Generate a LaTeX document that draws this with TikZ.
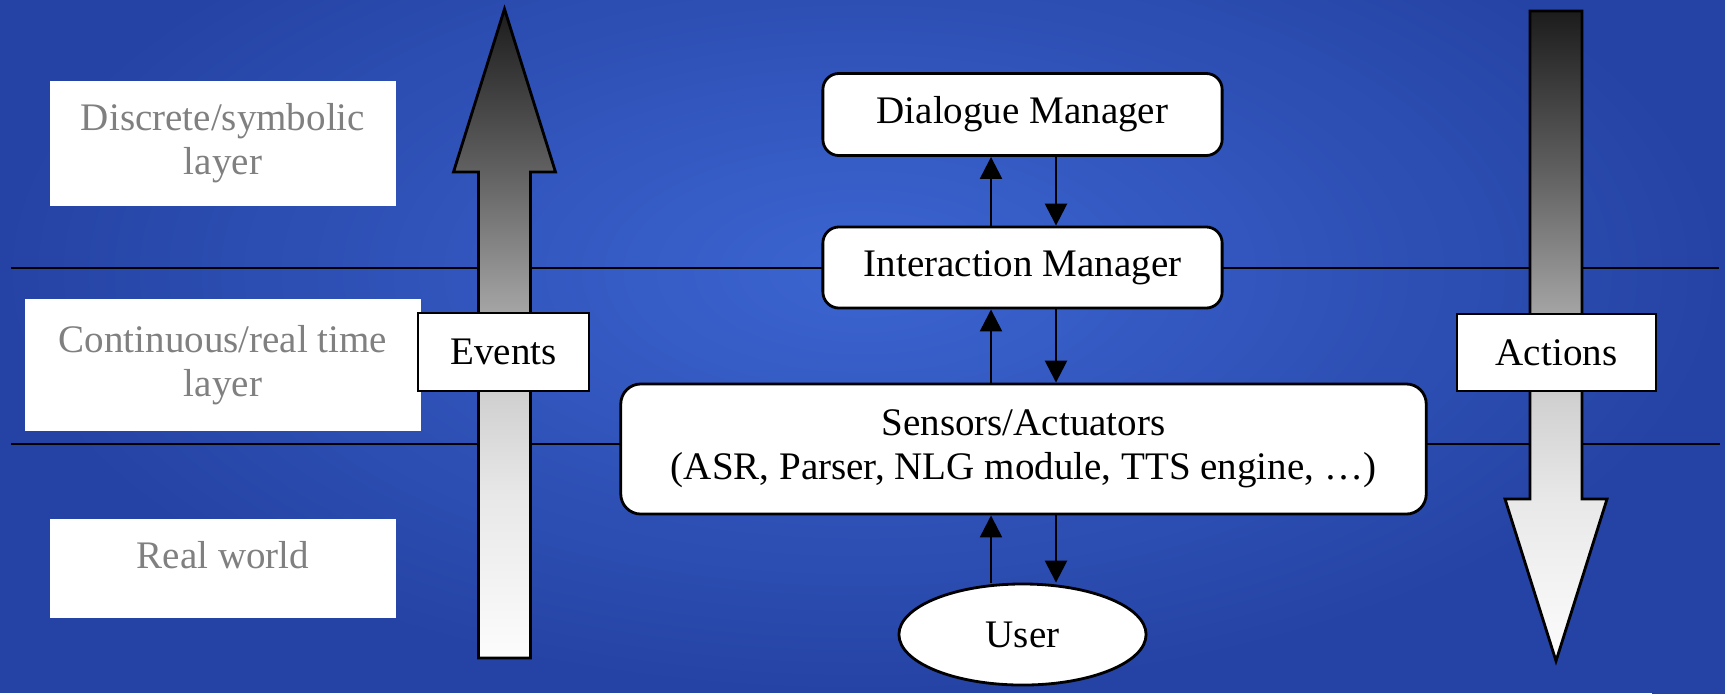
\documentclass[tikz,border=0pt]{standalone}
\usepackage{fontspec}
\setmainfont{Liberation Serif}
\usetikzlibrary{positioning,arrows.meta,shapes.geometric}
\tikzstyle{canvas} = [x = 0.01cm, y = -0.01cm, font=\fontsize{11.1}{12.6}\selectfont]
\definecolor{bgInner}{RGB}{60,101,209}
\definecolor{bgOuter}{RGB}{37,67,164}
\definecolor{layerText}{RGB}{128,128,128}
\definecolor{shadeTail}{gray}{0.99}
\definecolor{shadeLow}{gray}{0.91}
\definecolor{shadeMid}{gray}{0.82}
\definecolor{shadeHigh}{gray}{0.65}
\definecolor{shadeDark}{gray}{0.38}
\definecolor{shadeTip}{gray}{0.11}
\pgfdeclareverticalshading{arrowShade}{100bp}{color(0bp)=(shadeTail); color(25bp)=(shadeTail); color(37.5bp)=(shadeLow); color(45bp)=(shadeMid); color(51.5bp)=(shadeHigh); color(62.5bp)=(shadeDark); color(75bp)=(shadeTip); color(100bp)=(shadeTip)}
\tikzstyle{layerLine} = [color=black, line width=0.7pt]
\tikzstyle{layerBox} = [fill=white, text=layerText, align=center, inner sep=0pt]
\tikzstyle{moduleBox} = [draw=black, fill=white, rounded corners = .16cm, line width=0.8pt, align=center]
\tikzstyle{tagBox} = [draw=black, fill=white, line width=0.8pt]
\tikzstyle{userShape} = [ellipse, draw=black, fill=white, line width=0.8pt]
\tikzstyle{flow} = [-{Triangle[length=.22cm, width=.22cm]}, line width=0.7pt]
\tikzstyle{bigArrowStyle} = [shading=arrowShade, draw=black, line width=0.8pt]
\newcommand{\shaftHalf}{26}
\newcommand{\headHalf}{51}
\newcommand{\bigArrow}[4]{\shadedraw [bigArrowStyle] (#1 - \shaftHalf, #2) -- (#1 - \shaftHalf, #3) -- (#1 - \headHalf, #3) -- (#1, #4) -- (#1 + \headHalf, #3) -- (#1 + \shaftHalf, #3) -- (#1 + \shaftHalf, #2) -- cycle;}

\begin{document}
\begin{tikzpicture}[canvas]
  \useasboundingbox (0,0) rectangle (1725,696);
  \shade [inner color=bgInner, outer color=bgOuter] (0,-150) rectangle (1725,693);
  \fill [white] (0,693) rectangle (1652,696);
  \draw [layerLine] (11,268) -- (1719,268);
  \draw [layerLine] (11,444) -- (1720,444);
  % layers
  \node [layerBox, minimum width=3.46cm, minimum height=1.25cm] (discrete) at (223,143.5) {Discrete/symbolic\\layer};
  \node [layerBox, minimum width=3.96cm, minimum height=1.32cm] (continuous) at (223,365) {Continuous/real time\\layer};
  \node [layerBox, minimum width=3.46cm, minimum height=.99cm, text height=.27cm, text depth=.27cm] (real) at (223,568.5) {Real world};
  % events and actions
  \bigArrow{504.5}{658}{172}{9}
  \bigArrow{1556}{11}{499}{661}
  \node [tagBox, minimum width=1.71cm, minimum height=.78cm] (events) at (503.5,352) {Events};
  \node [tagBox, minimum width=1.99cm, minimum height=.77cm] (actions) at (1556.5,352.5) {Actions};
  % modules
  \node [moduleBox, minimum width=3.99cm, minimum height=.82cm] (dialogue) at (1022.5,114.5) {Dialogue Manager};
  \node [moduleBox, minimum width=3.99cm, minimum height=.81cm] (interaction) at (1022.5,267.5) {Interaction Manager};
  \node [moduleBox, minimum width=8.05cm, minimum height=1.3cm, rounded corners = .2cm] (sensors) at (1023.5,449) {Sensors/Actuators\\(ASR, Parser, NLG module, TTS engine, …)};
  \node [userShape, minimum width=2.47cm, minimum height=1.01cm] (user) at (1022.5,634.5) {User};
  \coordinate (upLane) at (991,0);
  \coordinate (downLane) at (1056,0);
  \foreach \bottomNode/\topNode in {interaction/dialogue, sensors/interaction, user/sensors} {
    \draw [flow] (\bottomNode.north -| upLane) -- (\topNode.south -| upLane);
    \draw [flow] (\topNode.south -| downLane) -- (\bottomNode.north -| downLane);
  }
\end{tikzpicture}
\end{document}
